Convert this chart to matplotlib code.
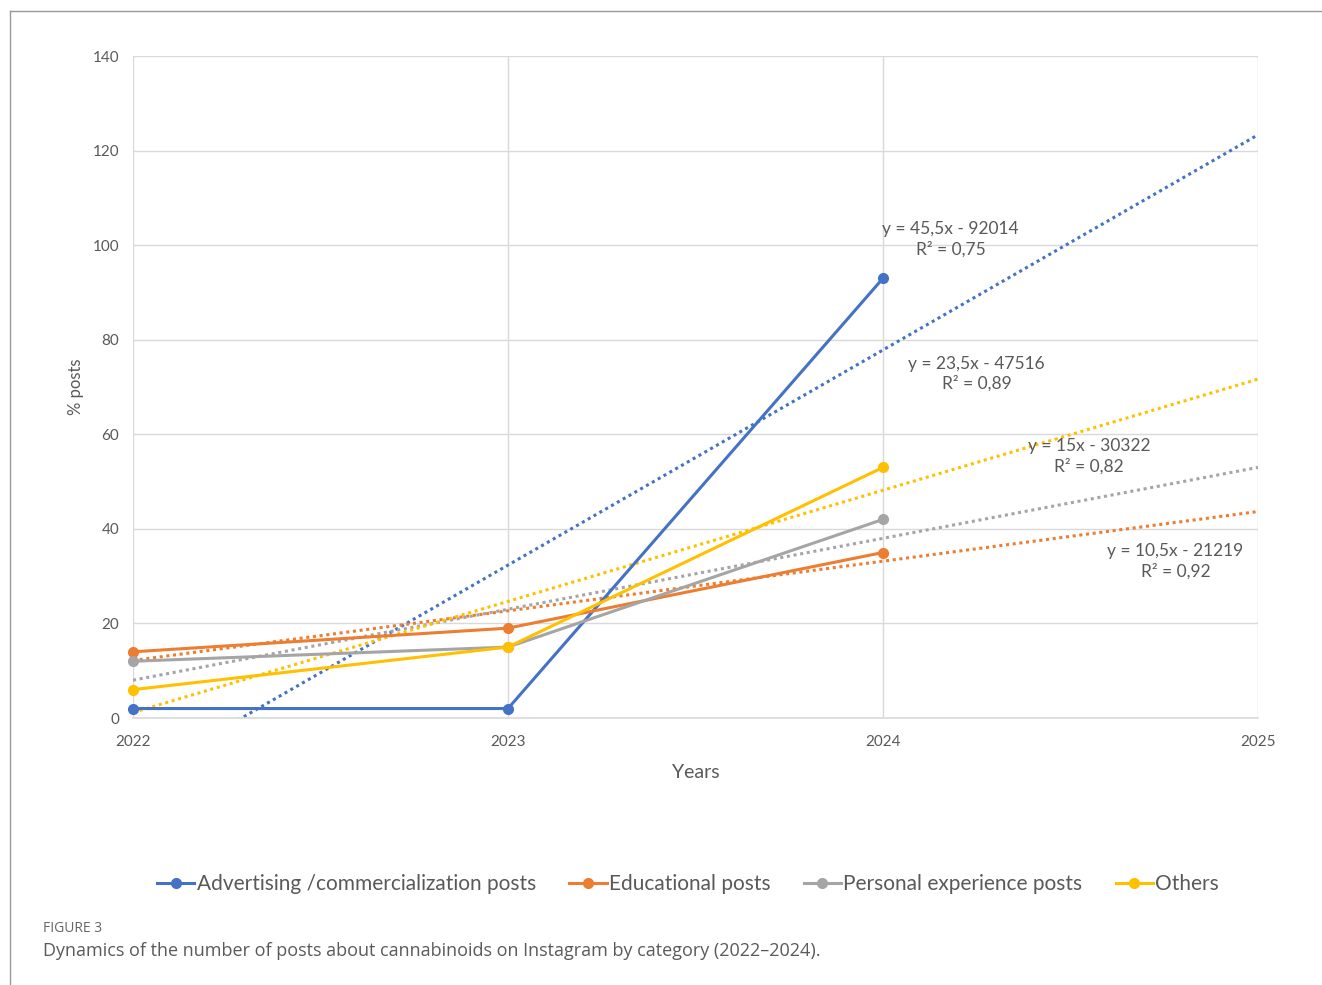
import matplotlib
matplotlib.use("Agg")
import matplotlib.pyplot as plt
import numpy as np
from matplotlib.lines import Line2D

years = [2022, 2023, 2024]
forecast_end = 2025

categories = [
    "Advertising /commercialization posts",
    "Educational posts",
    "Personal experience posts",
    "Others",
]
advertising = [2, 2, 93]
educational = [14, 19, 35]
personal = [12, 15, 42]
others = [6, 15, 53]

equations = [
    "y = 45,5x - 92014\nR² = 0,75",
    "y = 10,5x - 21219\nR² = 0,92",
    "y = 15x - 30322\nR² = 0,82",
    "y = 23,5x - 47516\nR² = 0,89",
]
label_pos = [(2024.18, 101.3), (2024.78, 33.2), (2024.55, 55.4), (2024.25, 72.8)]

colors = ["#4472C4", "#ED7D31", "#A5A5A5", "#FFC000"]
series = [advertising, educational, personal, others]

plt.rcParams["font.family"] = ["Lato", "DejaVu Sans"]

fig = plt.figure(figsize=(13.22, 9.85), dpi=100)
ax = fig.add_axes([133 / 1322, 1 - 718 / 985, (1258 - 133) / 1322, (718 - 56) / 985])

# linear trendlines, extended one year forward like Excel's forecast
trend_x = np.array([years[0], forecast_end])
for vals, color in zip(series, colors):
    slope, intercept = np.polyfit(years, vals, 1)
    ax.plot(trend_x, slope * trend_x + intercept, linestyle=(0, (1, 1.2)),
            color=color, linewidth=2.2, zorder=2)

for vals, color, name in zip(series, colors, categories):
    ax.plot(years, vals, color=color, linewidth=2.2, marker="o",
            markersize=7, label=name, zorder=3, clip_on=False)

for text, (x, y) in zip(equations, label_pos):
    ax.text(x, y, text, ha="center", va="center", fontsize=12.5,
            color="#595959", linespacing=1.3, zorder=4)

ax.set_xlim(2022, 2025)
ax.set_ylim(0, 140)
ax.set_xticks([2022, 2023, 2024, 2025])
ax.set_yticks(range(0, 141, 20))
ax.grid(True, color="#D9D9D9", linewidth=1)
ax.set_axisbelow(True)
for side in ["top", "right", "left"]:
    ax.spines[side].set_visible(False)
ax.spines["bottom"].set_color("#D9D9D9")
ax.spines["bottom"].set_linewidth(1.2)
ax.tick_params(length=0, labelsize=11, labelcolor="#595959")
ax.tick_params(axis="x", pad=12)
ax.tick_params(axis="y", pad=10)
ax.set_xlabel("Years", fontsize=14, color="#595959", labelpad=11)
ax.set_ylabel("% posts", fontsize=12, color="#595959", labelpad=6)

handles = [Line2D([], [], color=c, linewidth=2.2, marker="o", markersize=7) for c in colors]
fig.legend(handles, categories, loc="center", bbox_to_anchor=(688 / 1322, 1 - 884 / 985),
           ncol=4, frameon=False, fontsize=15, handlelength=1.8, handletextpad=0.1,
           columnspacing=1.6, labelcolor="#595959")

fig.text(43 / 1322, 1 - 928 / 985, "FIGURE 3", fontsize=10, color="#666666",
         va="center", family=["Open Sans", "DejaVu Sans"])
fig.text(43 / 1322, 1 - 951 / 985,
         "Dynamics of the number of posts about cannabinoids on Instagram by category (2022\u20132024).",
         fontsize=13, color="#5a5a5a", va="center", family=["Open Sans", "DejaVu Sans"])

# partial frame around the figure panel
fig.add_artist(Line2D([10 / 1322, 1.0], [1 - 11 / 985, 1 - 11 / 985], color="#999999", linewidth=1))
fig.add_artist(Line2D([10 / 1322, 10 / 1322], [0.0, 1 - 11 / 985], color="#999999", linewidth=1))

fig.savefig("out.png", dpi=100)
